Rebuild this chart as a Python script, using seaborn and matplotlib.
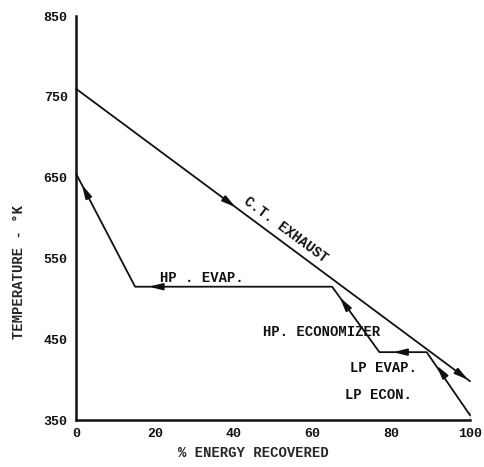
import numpy as np
import pandas as pd
import matplotlib
matplotlib.use("Agg")
import matplotlib.pyplot as plt
import seaborn as sns

# ---- data ----
ct_energy = [0, 100]
ct_temp = [760, 398]

water_energy = [0, 15, 65, 77, 89, 100, 100]
water_temp = [655, 515, 515, 434, 434, 362, 350]

x_ticks = [0, 20, 40, 60, 80, 100]
y_ticks = [350, 450, 550, 650, 750, 850]

# arrow locations (% energy) on each line
water_arrow_x = [1.5, 18.5, 67, 80.5, 91.5]
ct_arrow_x = [40.5, 99.5]

sns.set_style("white")
plt.rcParams['font.family'] = ['Liberation Mono', 'DejaVu Sans Mono']
plt.rcParams['font.weight'] = 'bold'

fig = plt.figure(figsize=(4.85, 4.67), dpi=100)
ax = fig.add_axes([0.1567, 0.1006, 0.8124, 0.8651])

ct_df = pd.DataFrame({"energy": ct_energy, "temp": ct_temp})
w_df = pd.DataFrame({"energy": water_energy, "temp": water_temp})

sns.lineplot(data=ct_df, x="energy", y="temp", sort=False, color="#111111",
             linewidth=1.3, ax=ax, clip_on=False)
sns.lineplot(data=w_df, x="energy", y="temp", sort=False, color="#111111",
             linewidth=1.3, ax=ax, clip_on=False)

ax.set_xlim(0, 100)
ax.set_ylim(350, 850)
ax.set_xticks(x_ticks)
ax.set_yticks(y_ticks)
ax.tick_params(axis='both', direction='in', length=6, width=1.5, color='#111111',
               labelsize=9.5, pad=6, labelcolor='#111111')
for s in ['top', 'right']:
    ax.spines[s].set_visible(False)
for s in ['left', 'bottom']:
    ax.spines[s].set_linewidth(1.8)
    ax.spines[s].set_color('#111111')

ax.set_xlabel("% ENERGY RECOVERED", fontsize=10, fontweight='bold')
ax.set_ylabel("TEMPERATURE - °K", fontsize=10, fontweight='bold')
ax.xaxis.set_label_coords(0.449, -0.064)
ax.yaxis.set_label_coords(-0.128, 0.366)

def interp_line(xs, ys, xq):
    for i in range(len(xs) - 1):
        x0, x1 = xs[i], xs[i + 1]
        if x0 != x1 and min(x0, x1) <= xq <= max(x0, x1):
            t = (xq - x0) / (x1 - x0)
            return ys[i] + t * (ys[i + 1] - ys[i]), i
    return None, None

def draw_arrow(xs, ys, xq, forward):
    yq, i = interp_line(xs, ys, xq)
    p_tip = ax.transData.transform((xq, yq))
    p0 = ax.transData.transform((xs[i], ys[i]))
    p1 = ax.transData.transform((xs[i + 1], ys[i + 1]))
    d = (p1 - p0) / np.linalg.norm(p1 - p0)
    if not forward:
        d = -d
    tail = p_tip - d * 10
    tail_d = ax.transData.inverted().transform(tail)
    ax.annotate("", xy=(xq, yq), xytext=tuple(tail_d),
                arrowprops=dict(arrowstyle="-|>,head_length=0.8,head_width=0.2",
                                color="#111111", lw=1.3, shrinkA=0, shrinkB=0),
                annotation_clip=False)

for xq in water_arrow_x:
    draw_arrow(water_energy, water_temp, xq, forward=False)
for xq in ct_arrow_x:
    draw_arrow(ct_energy, ct_temp, xq, forward=True)

# rotation of C.T. line on screen
pa = ax.transData.transform((ct_energy[0], ct_temp[0]))
pb = ax.transData.transform((ct_energy[1], ct_temp[1]))
ang = np.degrees(np.arctan2(pb[1] - pa[1], pb[0] - pa[0]))

tk = dict(fontsize=10, fontweight='bold', color='#111111', ha='center', va='center')
ax.text(53.2, 586, "C.T. EXHAUST", rotation=ang, rotation_mode='anchor', **tk)
ax.text(32, 526, "HP . EVAP.", **tk)
ax.text(62.4, 459, "HP. ECONOMIZER", **tk)
ax.text(78, 414, "LP EVAP.", **tk)
ax.text(76.8, 381, "LP ECON.", **tk)

fig.savefig("out.png", dpi=100, facecolor='white')
